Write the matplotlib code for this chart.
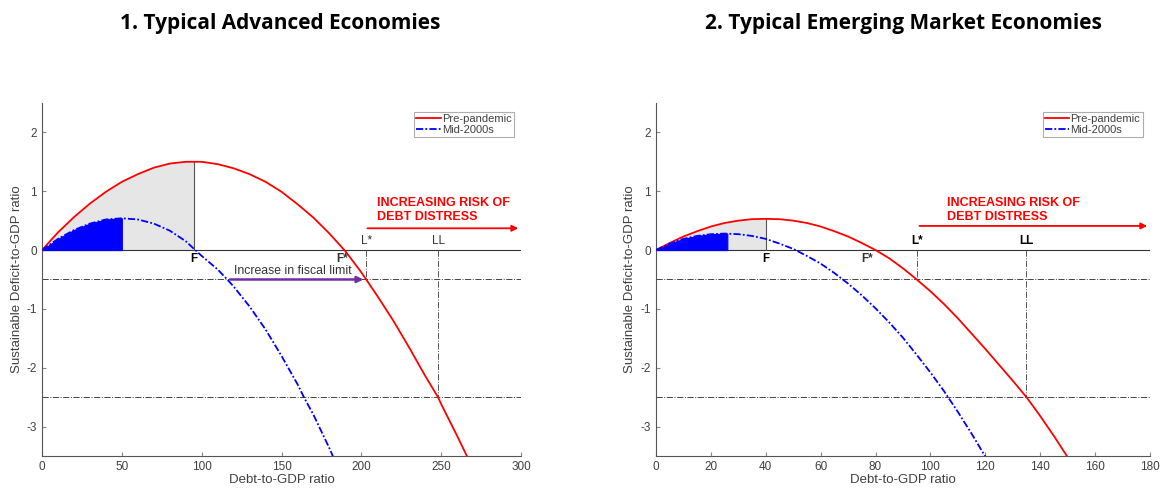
import numpy as np
import matplotlib.pyplot as plt

plt.rcParams['font.family'] = ['Liberation Sans', 'DejaVu Sans']
plt.rcParams['axes.unicode_minus'] = False

# Panel 1: advanced economies
adv_x = [0, 10, 20, 30, 40, 50, 60, 70, 80, 90, 95, 100, 110, 120, 130, 140, 150,
         160, 170, 180, 190, 200, 210, 220, 230, 240, 248, 250, 260, 270]
adv_pre = [0, 0.30, 0.56, 0.79, 0.99, 1.16, 1.29, 1.40, 1.47, 1.50, 1.50, 1.50, 1.46,
           1.39, 1.29, 1.16, 0.99, 0.78, 0.55, 0.28, -0.02, -0.38, -0.78, -1.20, -1.66,
           -2.14, -2.50, -2.62, -3.16, -3.72]
adv_x_mid = [0, 10, 20, 30, 40, 50, 60, 70, 80, 90, 96, 100, 110, 116, 120, 130, 140,
             150, 160, 164, 170, 180, 185]
adv_mid = [0, 0.19, 0.34, 0.45, 0.52, 0.54, 0.52, 0.45, 0.33, 0.15, 0.0, -0.10, -0.33,
           -0.50, -0.62, -0.96, -1.35, -1.80, -2.28, -2.50, -2.80, -3.37, -3.68]
adv_F, adv_Fstar, adv_L, adv_LL = 95, 188, 203, 248
adv_blue_end = 50
adv_mid_limit = 116

# Panel 2: emerging market economies
em_x = [0, 5, 10, 15, 20, 25, 30, 35, 40, 45, 50, 55, 60, 65, 70, 75, 80, 85, 90, 95,
        100, 105, 110, 115, 120, 125, 130, 135, 140, 145, 150]
em_pre = [0, 0.12, 0.23, 0.32, 0.40, 0.46, 0.50, 0.525, 0.53, 0.525, 0.50, 0.46, 0.40,
          0.32, 0.23, 0.12, 0.0, -0.14, -0.31, -0.50, -0.70, -0.92, -1.16, -1.42,
          -1.68, -1.95, -2.22, -2.50, -2.82, -3.16, -3.52]
em_x_mid = [0, 5, 10, 15, 20, 25, 30, 35, 40, 45, 50, 55, 60, 65, 70, 75, 80, 85, 90,
            95, 100, 105, 110, 115, 120]
em_mid = [0, 0.11, 0.19, 0.24, 0.27, 0.28, 0.27, 0.24, 0.19, 0.11, 0.02, -0.10, -0.23,
          -0.39, -0.57, -0.77, -0.99, -1.23, -1.49, -1.78, -2.08, -2.40, -2.75, -3.12,
          -3.51]
em_F, em_Fstar, em_L, em_LL = 40, 77, 95, 135
em_blue_end = 26

levels = [-0.5, -2.5]
grey_txt = '#404040'
blue_dash = (4, 1.2, 1, 1.2)


def panel(ax, x, pre, xm, mid, F, Fstar, L, LL, blue_end, xmax, xticks, bold_marks):
    x = np.array(x)
    pre = np.array(pre)
    xm = np.array(xm)
    mid = np.array(mid)

    # shaded regions under the curves
    m = x <= F
    ax.fill_between(x[m], 0, pre[m], color='#e6e6e6', lw=0)
    mb = xm <= blue_end
    xb = np.append(xm[mb], blue_end)
    yb = np.append(mid[mb], np.interp(blue_end, xm, mid))
    ax.fill_between(xb, 0, yb, facecolor='#0000ff', edgecolor='#0000ff', lw=0.8,
                    zorder=2)
    ax.plot([F, F], [0, np.interp(F, x, pre)], color='#555555', lw=0.8, zorder=2)

    ax.axhline(0, color='#333333', lw=0.8, zorder=1)
    for lv in levels:
        ax.axhline(lv, color='#444444', lw=0.7, ls='-.', zorder=1)
    ax.plot([L, L], [0, levels[0]], color='#555555', lw=0.7, ls='-.', zorder=1)
    ax.plot([LL, LL], [0, levels[1]], color='#555555', lw=0.7, ls='-.', zorder=1)

    ax.plot(x, pre, color='#ff0000', lw=1.3, label='Pre-pandemic', zorder=3)
    ax.plot(xm, mid, color='#0000ff', lw=1.3, dashes=blue_dash, label='Mid-2000s',
            zorder=3)

    fw = 'bold' if bold_marks else 'normal'
    fc = 'black' if bold_marks else '#333333'
    ax.text(F, -0.05, 'F', ha='center', va='top', fontsize=8.5, fontweight='bold')
    ax.text(Fstar, -0.05, 'F*', ha='center', va='top', fontsize=8.5, fontweight='bold',
            color='#333333')
    ax.text(L, 0.05, 'L*', ha='center', va='bottom', fontsize=8.5, fontweight=fw,
            color=fc)
    ax.text(LL, 0.05, 'LL', ha='center', va='bottom', fontsize=8.5, fontweight=fw,
            color=fc)

    ax.set_xlim(0, xmax)
    ax.set_ylim(-3.5, 2.5)
    ax.set_xticks(xticks)
    ax.set_yticks([-3, -2, -1, 0, 1, 2])
    ax.tick_params(direction='in', length=3, colors='#888888', labelcolor=grey_txt,
                   labelsize=8.5)
    for s in ['top', 'right']:
        ax.spines[s].set_visible(False)
    for s in ['left', 'bottom']:
        ax.spines[s].set_color('#555555')
        ax.spines[s].set_linewidth(0.8)
    ax.set_xlabel('Debt-to-GDP ratio', fontsize=9.5, color=grey_txt, labelpad=1)
    ax.set_ylabel('Sustainable Deficit-to-GDP ratio', fontsize=9.5, color=grey_txt,
                  labelpad=3)
    leg = ax.legend(loc='upper right', fontsize=8, handlelength=2.2, handletextpad=0.1,
                    borderpad=0.2, labelspacing=0.1, fancybox=False,
                    bbox_to_anchor=(0.985, 0.975), borderaxespad=0)
    leg.get_frame().set_edgecolor('#999999')
    leg.get_frame().set_linewidth(0.8)
    for t in leg.get_texts():
        t.set_color(grey_txt)


fig = plt.figure(figsize=(11.61, 4.91), dpi=100)
ax1 = fig.add_axes([0.0362, 0.0713, 0.4126, 0.719])
ax2 = fig.add_axes([0.565, 0.0713, 0.4255, 0.719])

panel(ax1, adv_x, adv_pre, adv_x_mid, adv_mid, adv_F, adv_Fstar, adv_L, adv_LL,
      adv_blue_end, 300, np.arange(0, 301, 50), False)
panel(ax2, em_x, em_pre, em_x_mid, em_mid, em_F, em_Fstar, em_L, em_LL,
      em_blue_end, 180, np.arange(0, 181, 20), True)

# risk annotations
ax1.text(210, 0.68, 'INCREASING RISK OF\nDEBT DISTRESS', color='#ff0000', fontsize=9,
         fontweight='bold', va='center', linespacing=1.15)
ax1.annotate('', xy=(300, 0.37), xytext=(202, 0.37),
             arrowprops=dict(arrowstyle='-|>', color='#ff0000', lw=1.3,
                             mutation_scale=9))
ax2.text(106, 0.68, 'INCREASING RISK OF\nDEBT DISTRESS', color='#ff0000', fontsize=9,
         fontweight='bold', va='center', linespacing=1.15)
ax2.annotate('', xy=(180, 0.41), xytext=(95, 0.41),
             arrowprops=dict(arrowstyle='-|>', color='#ff0000', lw=1.3,
                             mutation_scale=9))

ax1.text(157, -0.35, 'Increase in fiscal limit', ha='center', va='center',
         fontsize=8.8, color='#333333')
ax1.annotate('', xy=(adv_L, -0.5), xytext=(adv_mid_limit, -0.5),
             arrowprops=dict(arrowstyle='-|>', color='#7030a0', lw=1.8,
                             mutation_scale=9), zorder=4)

fig.text(0.241, 0.952, '1. Typical Advanced Economies', ha='center', va='center',
         fontsize=15, fontweight='bold', family=['Open Sans', 'DejaVu Sans'])
fig.text(0.778, 0.952, '2. Typical Emerging Market Economies', ha='center',
         va='center', fontsize=15, fontweight='bold', family=['Open Sans', 'DejaVu Sans'])

fig.savefig('out.png', dpi=100)
